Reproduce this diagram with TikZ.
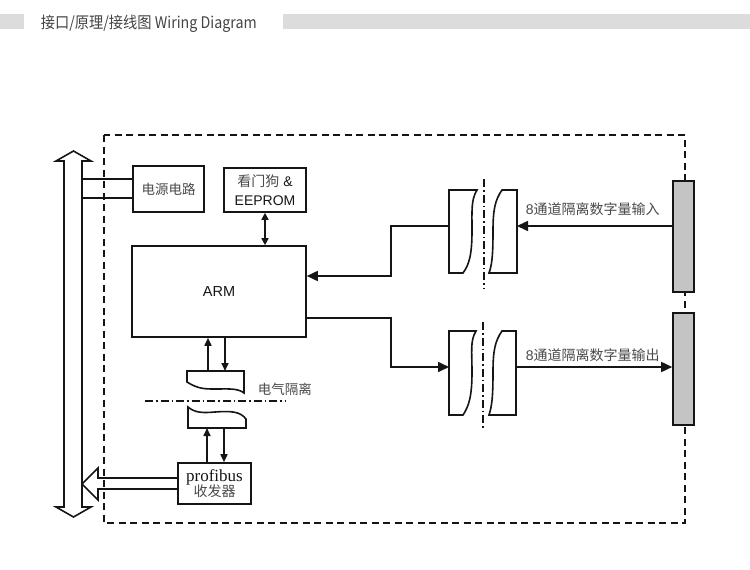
\documentclass[tikz,border=0pt]{standalone}
\usepackage{fontspec}
\setmainfont{Liberation Sans}
\newfontfamily\cjk{Noto Sans CJK SC}
\newfontfamily\tms{Liberation Serif}
\usetikzlibrary{arrows.meta,calc}
\definecolor{barc}{HTML}{DCDCDC}
\definecolor{txt}{HTML}{4A4A4A}
\definecolor{hdr}{HTML}{444444}
\definecolor{ln}{HTML}{151515}
\definecolor{connc}{HTML}{C4C4C4}
\begin{document}
\begin{tikzpicture}[x=1pt,y=-1pt,line width=1.6pt,
  box/.style={draw=ln, line width=1.6pt, fill=white, inner sep=0pt},
  tip/.style={-{Triangle[length=11pt,width=10pt]}},
  stip/.style={-{Triangle[length=8pt,width=7pt]}},
  dtip/.style={{Triangle[length=7pt,width=7pt]}-{Triangle[length=7pt,width=7pt]}},
  framestyle/.style={draw=ln, dash pattern=on 7pt off 4.5pt, line width=1.6pt},
  dashdot/.style={draw=ln, dash pattern=on 8pt off 3pt on 1.5pt off 3pt, line width=1.4pt},
  lbl/.style={font=\cjk\fontsize{13.5}{15}\selectfont, text=txt, inner sep=0pt},
  conn/.style={draw=ln, fill=connc, line width=1.6pt, minimum width=21pt, inner sep=0pt},
  iso/.style={draw=ln, fill=white, line width=1.6pt},
]
\useasboundingbox (0,0) rectangle (750,570);
\fill[white] (0,0) rectangle (750,570);
% header
\fill[barc] (0,14) rectangle (24,29);
\fill[barc] (283,14) rectangle (750,29);
\node[anchor=west, inner sep=0pt, font=\cjk\fontsize{16}{18}\selectfont, text=hdr] (title) at (40,23.5) {\scalebox{0.89}[1]{接口/原理/接线图 Wiring Diagram}};

% frame
\draw[framestyle] (104,135) rectangle (685,523);

% bus arrow
\draw[draw=ln, fill=white] (64,507) -- (64,161) -- (56,161) -- (73.5,151) -- (91,161) -- (82,161) -- (82,507) -- (91,507) -- (73.5,517) -- (56,507) -- cycle;
\coordinate (busR) at (82,300);

% boxes
\node[box, minimum width=71pt, minimum height=46pt, lbl] (power) at (168.5,189) {电源电路};
\node[box, minimum width=82pt, minimum height=44pt, align=center, font=\fontsize{14}{19}\selectfont, text=ln] (wd) at (265,190) {{\cjk\color{txt}看门狗} \&\\EEPROM};
\node[box, minimum width=174pt, minimum height=91pt, font=\fontsize{14.5}{16}\selectfont, text=ln] (arm) at (219,291.5) {ARM};
\node[box, minimum width=73pt, minimum height=41pt, align=center, text=ln] (prof) at (214.5,483.5) {{\tms\fontsize{17}{17}\selectfont profibus}\\[-1pt]{\cjk\fontsize{14}{15}\selectfont\color{txt}收发器}};

% power lines
\draw[ln] ([yshift=10pt]power.west) -- ([yshift=10pt]power.west -| busR);
\draw[ln] ([yshift=-9pt]power.west) -- ([yshift=-9pt]power.west -| busR);

% watchdog <-> ARM
\draw[ln, dtip] (wd.south) -- (wd.south |- arm.north);

% isolation (ARM side)
\draw[iso] (187,382) -- (187,371) -- (244,371) -- (244,393) .. controls (238,388) and (228,389) .. (215,389) .. controls (205,389) and (198,389) .. (187,382) -- cycle;
\draw[iso] (188,428) -- (188,407) .. controls (195,413) and (203,413) .. (215,412) .. controls (230,411) and (240,411) .. (246,419) -- (246,428) -- cycle;
\coordinate (isoUa) at (208,371);
\coordinate (isoUb) at (225,371);
\coordinate (isoLa) at (207,428);
\coordinate (isoLb) at (224,428);
\draw[ln, stip] (isoUa) -- (isoUa |- arm.south);
\draw[ln, stip] (isoUb |- arm.south) -- (isoUb);
\draw[ln, stip] (isoLa |- prof.north) -- (isoLa);
\draw[ln, stip] (isoLb) -- (isoLb |- prof.north);
\draw[dashdot] (145,401) -- (286,401);
\node[lbl, anchor=west] (eiso) at (257,389) {电气隔离};

% profibus hollow arrow to bus
\draw[draw=ln, line width=1.6pt] ([yshift=5.5pt]prof.west) -- (98,478) -- (98,468) -- (82,484) -- (98,500) -- (98,489) -- ([yshift=-5.5pt]prof.west);

% connectors
\node[conn, minimum height=111pt] (conin) at (683.5,236.5) {};
\node[conn, minimum height=112pt] (conout) at (683.5,369) {};

% input isolation
\draw[dashdot] (484,179) -- (484,288);
\draw[iso] (449,190) -- (477,190) .. controls (471,200) and (472,210) .. (472,231) .. controls (472,255) and (469,265) .. (463,273) -- (449,273) -- cycle;
\draw[iso] (517,190) -- (502,190) .. controls (495,200) and (493,210) .. (493,231) .. controls (493,255) and (492,265) .. (489,273) -- (517,273) -- cycle;
\coordinate (inL) at (449,226);
\coordinate (inR) at (517,226);
\draw[ln, tip] ([yshift=10.5pt]conin.west) -- (inR);
\draw[ln, tip] (inL) -- (391,226) |- ([yshift=15.5pt]arm.east);
\node[anchor=west, inner sep=0pt, text=txt] (lblout0) at (525,209) {\fontsize{14}{15}\selectfont 8{\cjk 通道隔离数字量输入}};

% output isolation
\draw[dashdot] (483,322) -- (483,429);
\draw[iso] (449,331) -- (476,331) .. controls (470,341) and (472,351) .. (472,372) .. controls (472,396) and (469,406) .. (463,415) -- (449,415) -- cycle;
\draw[iso] (516,331) -- (502,331) .. controls (495,341) and (493,351) .. (493,372) .. controls (493,396) and (492,406) .. (489,415) -- (516,415) -- cycle;
\coordinate (outL) at (449,367);
\coordinate (outR) at (516,367);
\coordinate (armout) at (306,318);
\draw[ln, tip] (armout -| arm.east) -- (391,318) -- (391,367) -- (outL);
\draw[ln, tip] (outR) -- ([yshift=2pt]conout.west);
\node[anchor=west, inner sep=0pt, text=txt] (lblout) at (525,355) {\fontsize{14}{15}\selectfont 8{\cjk 通道隔离数字量输出}};
\end{tikzpicture}
\end{document}
